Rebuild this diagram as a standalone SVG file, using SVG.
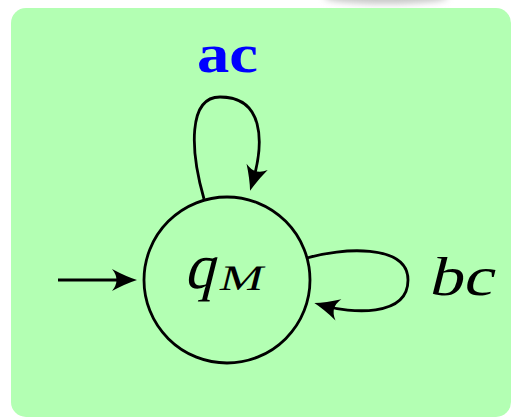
<svg xmlns="http://www.w3.org/2000/svg" width="512" height="417" viewBox="0 0 512 417">
  <style>
    .edge { fill: none; stroke: #000; stroke-width: 2.8; }
    .state { fill: none; stroke: #000; stroke-width: 2.8; }
    .math { font-family: "Liberation Serif", "Times New Roman", serif; fill: #000; }
    .bold { font-family: "Liberation Serif", "Times New Roman", serif; font-weight: bold; fill: #0000ff; }
  </style>
  <defs>
    <filter id="blur" x="-50%" y="-200%" width="200%" height="500%">
      <feGaussianBlur stdDeviation="3"/>
    </filter>
    <marker id="arrow" viewBox="-26 -13 28 26" refX="-8" refY="0" markerWidth="28" markerHeight="26" markerUnits="userSpaceOnUse" orient="auto">
      <path d="M1,0 Q-10,-3.5 -24,-11 Q-15,0 -24,11 Q-10,3.5 1,0 Z" fill="#000"/>
    </marker>
  </defs>
  <rect width="512" height="417" fill="#ffffff"/>
  <ellipse cx="386" cy="-3" rx="62" ry="7" fill="#c8c8c8" filter="url(#blur)"/>
  <rect id="background" x="11" y="8" width="500" height="409" rx="15" ry="15" fill="#b3ffb3"/>

  <g id="connectors">
    <path id="initial" class="edge" d="M58,280 L128,280" marker-end="url(#arrow)"/>
    <path id="loop-ac" class="edge" d="M204,199 C190,150 188,97 220,97 C263,97 265,140 252.6,182.2" marker-end="url(#arrow)"/>
    <path id="loop-bc" class="edge" d="M307,258 C340,248 408,243 408,280 C408,318 350,313 323,305.5" marker-end="url(#arrow)"/>
  </g>

  <g id="node-qM">
    <circle class="state" cx="227" cy="280" r="83"/>
    <text class="math" transform="translate(184,288) skewX(-14)" font-size="64" textLength="30" lengthAdjust="spacingAndGlyphs">q</text>
    <text class="math" transform="translate(218,290) skewX(-14)" font-size="36" textLength="43" lengthAdjust="spacingAndGlyphs">M</text>
  </g>

  <g id="labels">
    <text class="bold" x="197" y="72" font-size="54" textLength="61" lengthAdjust="spacingAndGlyphs">ac</text>
    <text class="math" transform="translate(428,295) skewX(-14)" font-size="55" textLength="64" lengthAdjust="spacingAndGlyphs">bc</text>
  </g>
</svg>
